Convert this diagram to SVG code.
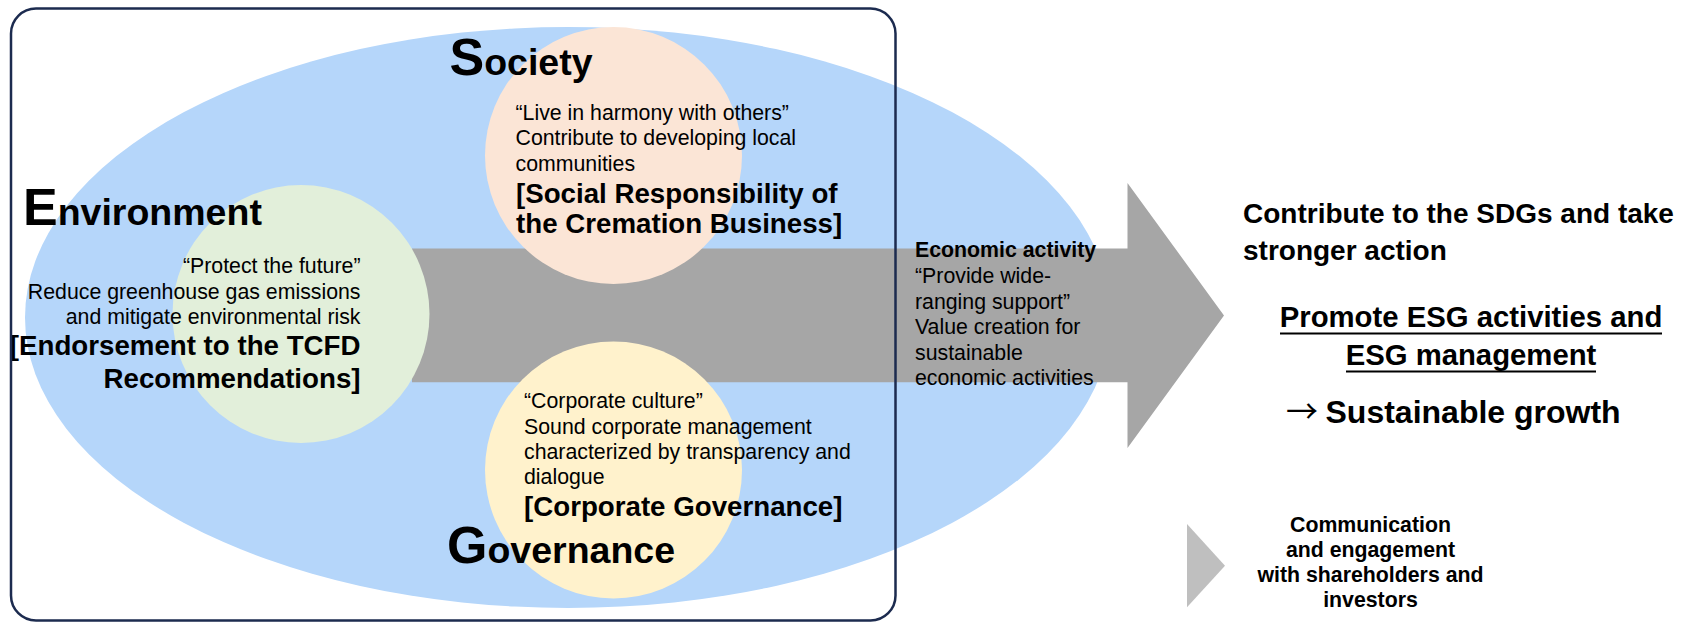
<svg xmlns="http://www.w3.org/2000/svg" width="1692" height="624" viewBox="0 0 1692 624">
<style>
text{font-family:"Liberation Sans",Arial,sans-serif;fill:#000}
.r{font-size:21.3px}
.b{font-size:21.3px;font-weight:bold}
.bb{font-size:27.7px;font-weight:bold}
.big{font-weight:bold}
.cap{font-size:52px}
.sm{font-size:37.5px}
.ul{stroke:#000;stroke-width:2}
</style>
<rect width="1692" height="624" fill="#fff"/>
<g id="esg-field">
<ellipse cx="568" cy="317.5" rx="543" ry="290.5" fill="#b5d6fa"/>
</g>
<g id="connectors">
<polygon points="412,248.5 1127.5,248.5 1127.5,183 1224,315.5 1127.5,448 1127.5,382.3 412,382.3" fill="#a6a6a6"/>
<polygon points="1187,524 1225,565.7 1187,607.3" fill="#bfbfbf"/>
</g>
<g id="environment">
<ellipse cx="301" cy="314" rx="128.5" ry="129" fill="#e2efda"/>
<text x="23" y="225" class="big"><tspan class="cap">E</tspan><tspan class="sm">nvironment</tspan></text>
<text class="r" text-anchor="end"><tspan x="360.5" y="273.3">“Protect the future”</tspan><tspan x="360.5" y="298.6">Reduce greenhouse gas emissions</tspan><tspan x="360.5" y="324">and mitigate environmental risk</tspan></text>
<text class="bb" text-anchor="end"><tspan x="360.5" y="355">[Endorsement to the TCFD</tspan><tspan x="360.5" y="387.5">Recommendations]</tspan></text>
</g>
<g id="society">
<circle cx="613.5" cy="155.5" r="128.5" fill="#fbe5d6"/>
<text x="449.5" y="75" class="big"><tspan class="cap">S</tspan><tspan class="sm">ociety</tspan></text>
<text class="r"><tspan x="515.5" y="119.8">“Live in harmony with others”</tspan><tspan x="515.5" y="145.3">Contribute to developing local</tspan><tspan x="515.5" y="170.8">communities</tspan></text>
<text class="bb"><tspan x="516" y="202.7">[Social Responsibility of</tspan><tspan x="516" y="233.3">the Cremation Business]</tspan></text>
</g>
<g id="governance">
<circle cx="613.5" cy="470" r="128.5" fill="#fff2cc"/>
<text class="r"><tspan x="524" y="408.3">“Corporate culture”</tspan><tspan x="524" y="433.5">Sound corporate management</tspan><tspan x="524" y="459">characterized by transparency and</tspan><tspan x="524" y="483.5">dialogue</tspan></text>
<text class="bb" x="524" y="515.7">[Corporate Governance]</text>
<text x="447" y="563.3" class="big"><tspan class="cap">G</tspan><tspan class="sm">overnance</tspan></text>
</g>
<g id="frame">
<rect x="11" y="8.5" width="884.5" height="612" rx="25" fill="none" stroke="#1c2b4f" stroke-width="2.5"/>
</g>
<g id="economic-activity">
<text class="b" x="915" y="257.3">Economic activity</text>
<text class="r"><tspan x="915" y="283">“Provide wide-</tspan><tspan x="915" y="308.6">ranging support”</tspan><tspan x="915" y="334.2">Value creation for</tspan><tspan x="915" y="359.7">sustainable</tspan><tspan x="915" y="385.3">economic activities</tspan></text>
</g>
<g id="sdgs">
<text style="font-size:28px;font-weight:bold"><tspan x="1243" y="223.3">Contribute to the SDGs and take</tspan><tspan x="1243" y="260">stronger action</tspan></text>
</g>
<g id="promote-esg">
<text style="font-size:29.3px;font-weight:bold" text-anchor="middle"><tspan x="1471" y="326.7">Promote ESG activities and</tspan><tspan x="1471" y="365">ESG management</tspan></text>
<line class="ul" x1="1280" y1="333.5" x2="1662" y2="333.5"/>
<line class="ul" x1="1346" y1="371.5" x2="1596" y2="371.5"/>
</g>
<g id="sustainable-growth">
<text x="1286" y="423.3" style="font-size:32px;font-weight:bold"><tspan style="font-family:'Noto Sans CJK JP',sans-serif;font-weight:normal">→</tspan><tspan x="1325.5">Sustainable growth</tspan></text>
</g>
<g id="communication">
<text class="b" text-anchor="middle"><tspan x="1370.5" y="532.3">Communication</tspan><tspan x="1370.5" y="557.3">and engagement</tspan><tspan x="1370.5" y="582.3">with shareholders and</tspan><tspan x="1370.5" y="607.3">investors</tspan></text>
</g>
</svg>
